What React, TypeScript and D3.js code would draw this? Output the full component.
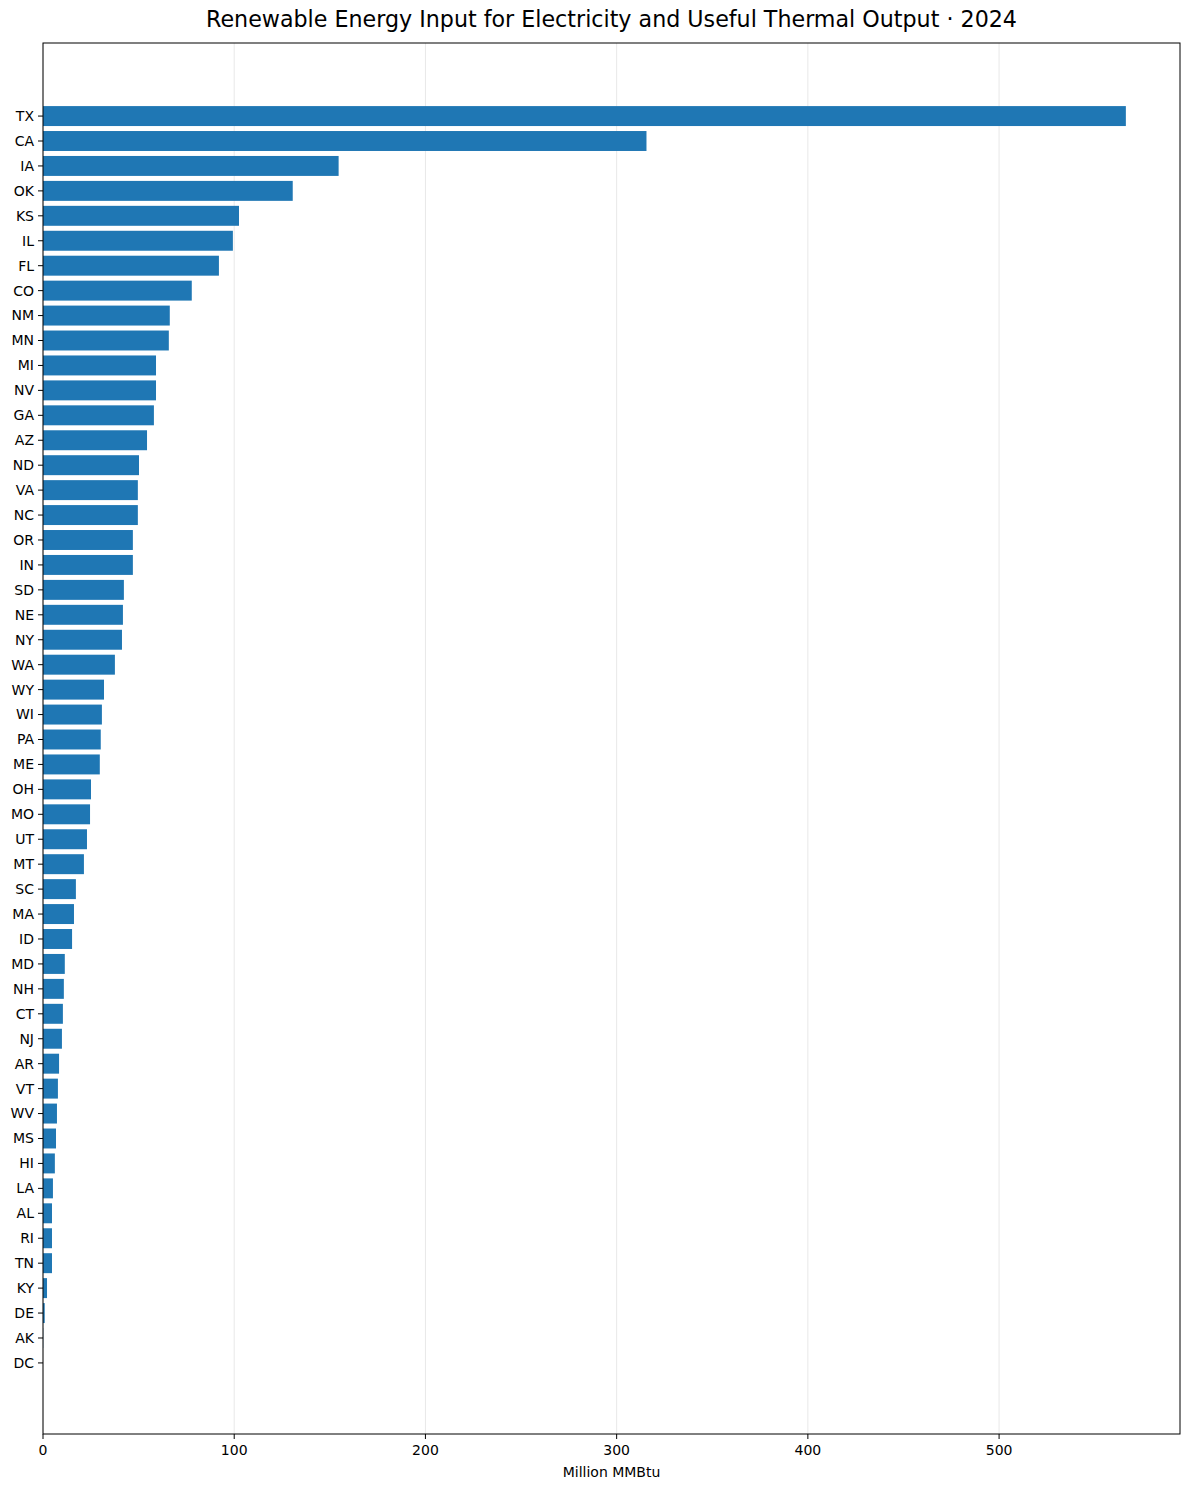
import React from 'react';
import * as d3 from 'd3';

// States, sorted by value (largest first)
const states = [
  'TX', 'CA', 'IA', 'OK', 'KS', 'IL', 'FL', 'CO', 'NM', 'MN', 'MI', 'NV', 'GA',
  'AZ', 'ND', 'VA', 'NC', 'OR', 'IN', 'SD', 'NE', 'NY', 'WA', 'WY', 'WI', 'PA',
  'ME', 'OH', 'MO', 'UT', 'MT', 'SC', 'MA', 'ID', 'MD', 'NH', 'CT', 'NJ', 'AR',
  'VT', 'WV', 'MS', 'HI', 'LA', 'AL', 'RI', 'TN', 'KY', 'DE', 'AK', 'DC',
];

// Million MMBtu
const values = [
  566.3, 315.6, 154.6, 130.6, 102.5, 99.3, 92.0, 77.8, 66.3, 65.8, 59.1, 59.1, 58.0,
  54.4, 50.2, 49.6, 49.6, 47.0, 47.0, 42.3, 41.8, 41.3, 37.6, 31.9, 30.8, 30.2,
  29.7, 25.1, 24.6, 23.0, 21.4, 17.2, 16.2, 15.2, 11.4, 10.9, 10.4, 9.9, 8.4,
  7.8, 7.3, 6.8, 6.2, 5.2, 4.7, 4.7, 4.7, 2.1, 0.9, 0.1, 0.0,
];

const xTicks = [0, 100, 200, 300, 400, 500];

const title = 'Renewable Energy Input for Electricity and Useful Thermal Output · 2024';
const xLabel = 'Million MMBtu';

const W = 1189;
const H = 1490;
const margin = { top: 43, right: 9, bottom: 56, left: 43 };
const FONT = '"DejaVu Sans", sans-serif';

export default function App() {
  const plotW = W - margin.left - margin.right;
  const plotH = H - margin.top - margin.bottom;

  const xMax = (d3.max(values) ?? 0) * 1.05;
  const x = d3.scaleLinear().domain([0, xMax]).range([0, plotW]);
  const y = d3.scaleLinear().domain([-2.93, states.length - 1 + 2.85]).range([0, plotH]);
  const barH = y(0.4) - y(-0.4);

  return (
    <svg width={W} height={H} style={{ display: 'block', position: 'absolute', left: 0, top: 0 }}
      fontFamily={FONT}>
      <rect width={W} height={H} fill="#fff" />
      <text x={margin.left + plotW / 2} y={27} textAnchor="middle" fontSize={22.2} fill="#000">
        {title}
      </text>
      <g transform={`translate(${margin.left},${margin.top})`}>
        {/* grid */}
        {xTicks.map(t => (
          <line key={`g${t}`} x1={x(t)} x2={x(t)} y1={0} y2={plotH} stroke="#e8e8e8" strokeWidth={1} />
        ))}
        {/* bars */}
        {states.map((s, i) => (
          <rect key={s} x={x(0)} y={y(i) - barH / 2} width={Math.max(0, x(values[i]) - x(0))}
            height={barH} fill="#1f77b4" />
        ))}
        {/* frame */}
        <rect x={0} y={0} width={plotW} height={plotH} fill="none" stroke="#000" strokeWidth={1} />
        {/* y axis */}
        {states.map((s, i) => (
          <g key={`y${s}`} transform={`translate(0,${y(i)})`}>
            <line x1={-5} x2={0} stroke="#000" />
            <text x={-9} dy="0.35em" textAnchor="end" fontSize={14} fill="#000">{s}</text>
          </g>
        ))}
        {/* x axis */}
        {xTicks.map(t => (
          <g key={`x${t}`} transform={`translate(${x(t)},${plotH})`}>
            <line y1={0} y2={5} stroke="#000" />
            <text y={21} textAnchor="middle" fontSize={14} fill="#000">{t}</text>
          </g>
        ))}
        <text x={plotW / 2} y={plotH + 43} textAnchor="middle" fontSize={14} fill="#000">{xLabel}</text>
      </g>
    </svg>
  );
}
